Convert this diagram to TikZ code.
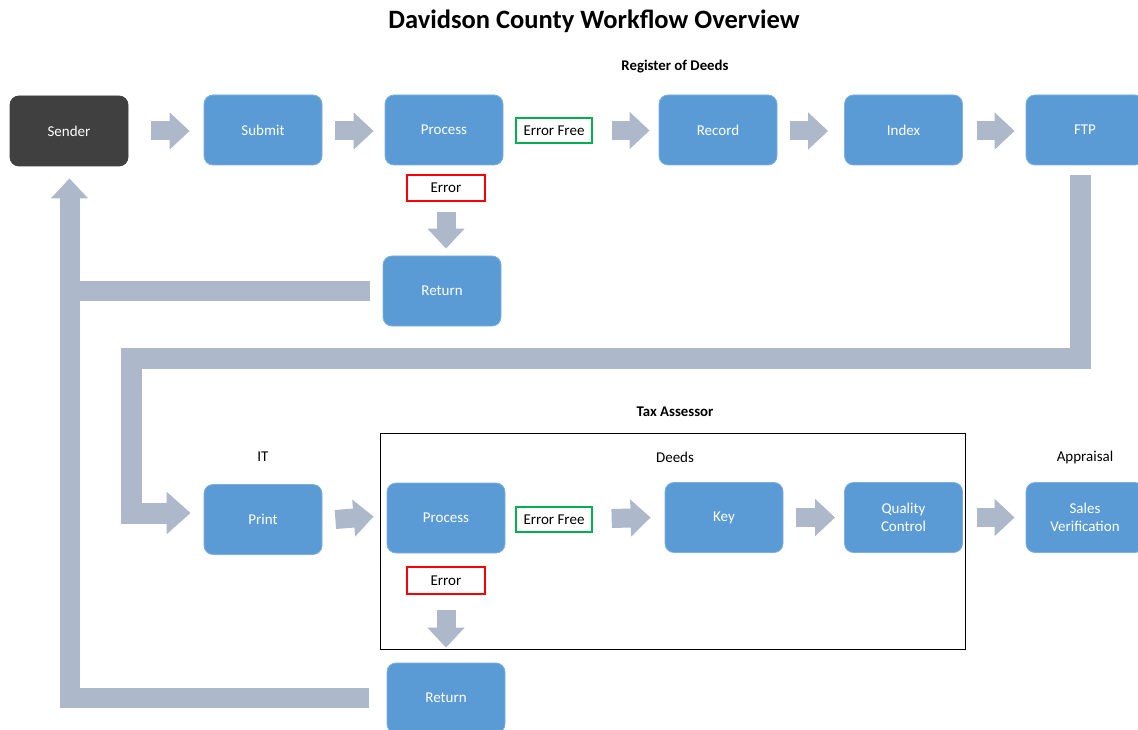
\documentclass[tikz,border=0pt]{standalone}
\usepackage{fontspec}
\setmainfont{Carlito}
\usetikzlibrary{arrows.meta}
\definecolor{boxblue}{HTML}{5B9BD5}
\definecolor{boxedge}{HTML}{7DB0DE}
\definecolor{senderdark}{HTML}{404040}
\definecolor{arrowgray}{HTML}{ADB9CA}
\definecolor{okgreen}{HTML}{00B050}
\definecolor{errred}{HTML}{FF0000}
\begin{document}
\begin{tikzpicture}[x=1pt,y=-1pt,
  proc/.style={rectangle, rounded corners=9pt, fill=boxblue, draw=boxedge, line width=0.8pt,
    minimum width=118pt, minimum height=70pt, inner sep=0pt, text=white,
    font=\fontsize{15}{18}\selectfont, align=center},
  darkproc/.style={proc, fill=senderdark, draw=senderdark},
  tagbox/.style={rectangle, draw=#1, line width=1.3pt, fill=white, minimum height=25pt,
    minimum width=76pt, inner sep=0pt, text=black, font=\fontsize{15}{17}\selectfont},
  lbl/.style={inner sep=0pt, font=\fontsize{15}{17}\selectfont},
  boldlbl/.style={inner sep=0pt, font=\bfseries\fontsize{14.8}{17}\selectfont},
  blockarrow/.style={draw=arrowgray, line width=19pt, -{Triangle[length=20pt,width=36pt]}},
  bigarrow/.style={draw=arrowgray, line width=21pt, line join=miter, -{Triangle[length=24pt,width=41pt]}},
  loopbar/.style={draw=arrowgray, line width=19.5pt, line join=miter},
]
\useasboundingbox (0,0) rectangle (1138,730);

% title and labels
\node[inner sep=0pt, font=\bfseries\fontsize{26.5}{30}\selectfont] (title) at (594,21) {Davidson County Workflow Overview};
\node[boldlbl] (rod) at (675,67) {Register of Deeds};
\node[boldlbl] (tax) at (675,412) {Tax Assessor};
\node[lbl] (it) at (263,457) {IT};
\node[lbl] (deeds) at (675,457) {Deeds};
\node[lbl] (appraisal) at (1085,457) {Appraisal};

% tax assessor frame
\node[draw=black, line width=1pt, minimum width=585pt, minimum height=216pt, inner sep=0pt] (taxbox) at (672.5,541) {};

% row 1
\node[darkproc] (sender) at (69,131) {Sender};
\node[proc] (submit) at (263,130) {Submit};
\node[proc] (proc1) at (444,130) {Process};
\node[tagbox=okgreen] (errfree1) at (554,130.5) {\raisebox{-1pt}{Error Free}};
\node[proc] (record) at (718,130) {Record};
\node[proc] (index) at (903.5,130) {Index};
\node[proc] (ftp) at (1085,130) {FTP};
\node[tagbox=errred, minimum width=78pt, minimum height=26pt] (err1) at (446,188) {\raisebox{-2pt}{Error}};
\node[proc] (ret1) at (442,291) {Return};

% row 2
\node[proc] (print) at (263,519.5) {Print};
\node[proc] (proc2) at (446,518) {Process};
\node[tagbox=okgreen] (errfree2) at (554,519.5) {\raisebox{-1pt}{Error Free}};
\node[proc] (key) at (724,517.5) {Key};
\node[proc] (qc) at (903.5,517.5) {Quality\\Control};
\node[proc] (sales) at (1085,517.5) {Sales\\Verification};
\node[tagbox=errred, minimum width=78pt, minimum height=27pt] (err2) at (446,580.5) {\raisebox{-1.5pt}{Error}};
\node[proc] (ret2) at (446,698) {Return};

% row 1 arrows
\draw[blockarrow] ([xshift=23pt]sender.east) -- ([xshift=-14pt,yshift=-1pt]submit.west);
\draw[blockarrow] ([xshift=13pt,yshift=-1pt]submit.east) -- ([xshift=-11pt,yshift=-1pt]proc1.west);
\draw[blockarrow] ([xshift=19pt]errfree1.east) -- ([xshift=-9pt,yshift=-0.5pt]record.west);
\draw[blockarrow] ([xshift=13pt,yshift=-1pt]record.east) -- ([xshift=-16pt,yshift=-1pt]index.west);
\draw[blockarrow] ([xshift=14pt,yshift=-1pt]index.east) -- ([xshift=-11pt,yshift=-1pt]ftp.west);
\draw[blockarrow] ([yshift=-10pt]err1.south) -- ([yshift=7pt]err1.south |- ret1.north);

% row 2 arrows
\draw[blockarrow] ([xshift=13pt]print.east) -- ([xshift=-13pt,yshift=1.5pt]proc2.west);
\draw[blockarrow] ([xshift=19pt,yshift=1pt]errfree2.east) -- ([xshift=-14pt]key.west);
\draw[blockarrow] ([xshift=13pt]key.east) -- ([xshift=-9pt]qc.west);
\draw[blockarrow] ([xshift=14pt]qc.east) -- ([xshift=-11pt]sales.west);
\draw[blockarrow] ([yshift=-15pt]err2.south) -- ([yshift=15pt]err2.south |- ret2.north);

% FTP to Print loop
\coordinate (ftpstart) at ([xshift=-5pt,yshift=-10pt]ftp.south);
\coordinate (printtip) at ([xshift=-13pt,yshift=6.5pt]print.west);
\coordinate (ftpturn) at (1080,358.5);
\coordinate (itturn) at (131.5,358.5);
\draw[bigarrow] (ftpstart) -- (ftpstart |- ftpturn) -- (itturn) -- (itturn |- printtip) -- (printtip);

% return loops to sender
\coordinate (sendertip) at ([xshift=0.5pt,yshift=-12pt]sender.south);
\coordinate (ret2start) at ([xshift=-18pt]ret2.west);
\draw[blockarrow, line width=20pt, line join=miter] (ret2start) -- (sendertip |- ret2start) -- (sendertip);
\coordinate (ret1start) at ([xshift=-13pt]ret1.west);
\draw[loopbar] (ret1start) -- (sendertip |- ret1start);
\end{tikzpicture}
\end{document}
